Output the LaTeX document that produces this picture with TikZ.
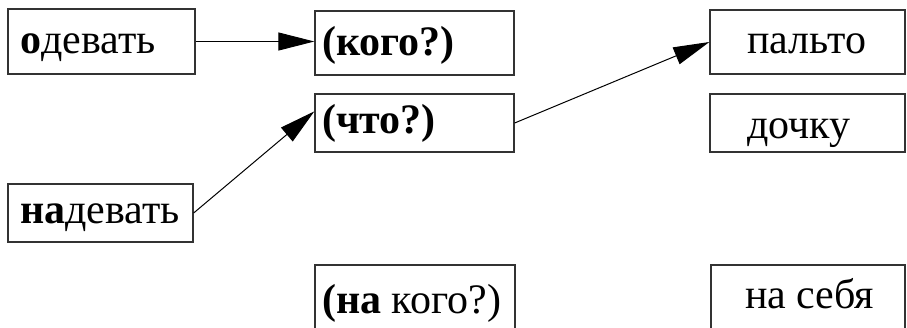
\documentclass[tikz,border=0pt]{standalone}
\usepackage{fontspec}
\setmainfont{Liberation Serif}
\usetikzlibrary{arrows.meta,calc}
\begin{document}
\begin{tikzpicture}[x=1pt,y=-1pt,
  box/.style={draw=black!80, line width=1.3pt, inner sep=0pt, rectangle},
  lbl/.style={anchor=base west, inner sep=0pt, font=\fontsize{42}{46}\selectfont},
  arr/.style={-{Triangle[length=36pt,width=18pt]}, line width=1pt}]
\useasboundingbox (0,0) rectangle (907,327);
\clip (0,0) rectangle (907,327);
\node[box, minimum width=187pt, minimum height=65pt] (o) at (101.5,41.5) {};
\node[box, minimum width=199pt, minimum height=64pt] (kogo) at (414.5,43) {};
\node[box, minimum width=199pt, minimum height=58pt] (chto) at (414.5,123) {};
\node[box, minimum width=185pt, minimum height=58pt] (na) at (100.5,213) {};
\node[box, minimum width=200pt, minimum height=76pt] (nakogo) at (415,303) {};
\node[box, minimum width=195pt, minimum height=64pt] (palto) at (807.5,42) {};
\node[box, minimum width=195pt, minimum height=58pt] (dochku) at (807.5,123) {};
\node[box, minimum width=194pt, minimum height=76pt] (nasebya) at (808,303) {};
\node[lbl] (t1) at (20,53) {\textbf{о}девать};
\node[lbl] (t2) at (322,55) {\textbf{(кого?)}};
\node[lbl] (t3) at (322,133) {\textbf{(что?)}};
\node[lbl] (t4) at (747,53) {пальто};
\node[lbl] (t5) at (747,138) {дочку};
\node[lbl] (t6) at (20,223) {\textbf{на}девать};
\node[lbl] (t7) at (322,313) {\textbf{(на} кого?)};
\node[lbl] (t8) at (745,308) {на себя};
\coordinate (chtoin) at ($(chto.north west)+(0,18)$);
\draw[arr] (o.east) -- (o.east -| kogo.west);
\draw[arr] (na.east) -- (chtoin);
\draw[arr] (chto.east) -- (palto.west);
\end{tikzpicture}
\end{document}
